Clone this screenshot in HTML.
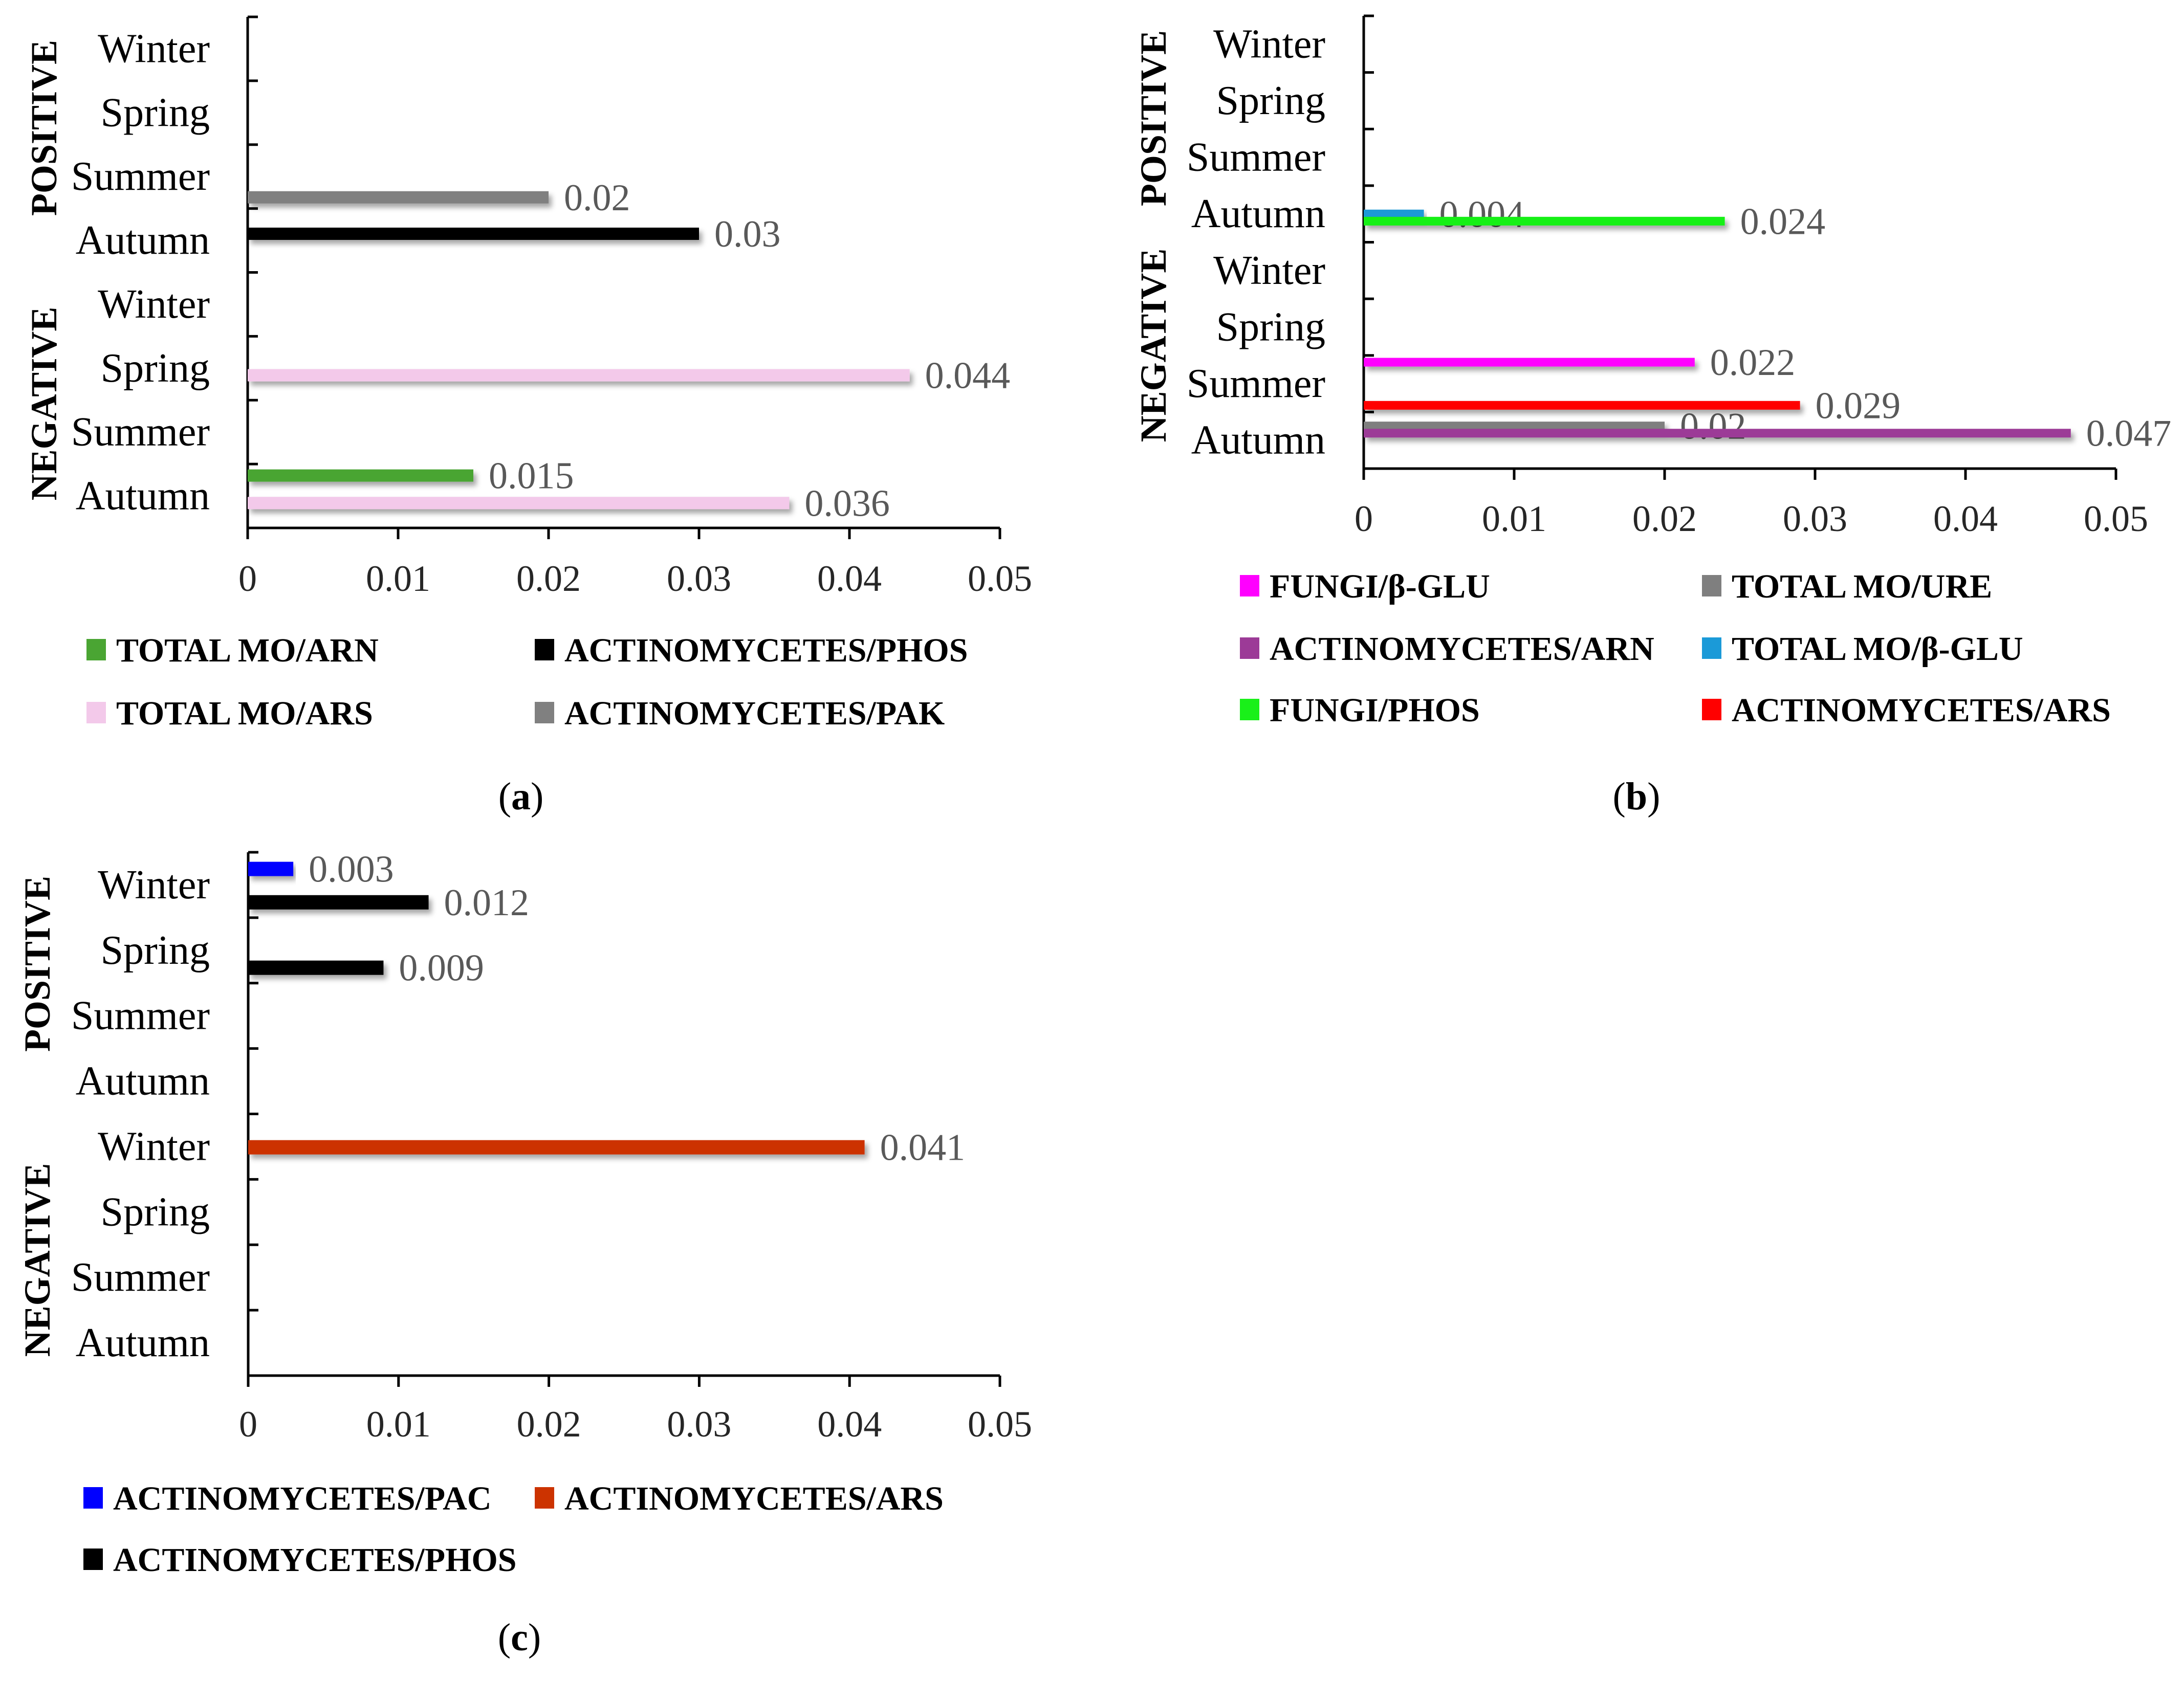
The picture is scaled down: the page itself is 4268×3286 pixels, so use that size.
<!DOCTYPE html>
<html><head><meta charset="utf-8"><style>
html,body{margin:0;padding:0;background:#fff;}
svg{display:block;}
text{font-family:"Liberation Serif",serif;}
</style></head><body>
<svg id="fig" width="4268" height="3286" viewBox="0 0 4268 3286" xmlns="http://www.w3.org/2000/svg">
<defs>
<filter id="sh" x="-5%" y="-50%" width="110%" height="300%">
<feDropShadow dx="6" dy="8" stdDeviation="5" flood-color="#000" flood-opacity="0.35"/>
</filter>
</defs>
</svg>
<script>
// shared
const seasons = ["Winter","Spring","Summer","Autumn","Winter","Spring","Summer","Autumn"];
const xTicks = [0,0.01,0.02,0.03,0.04,0.05];
const xTickLabels = ["0","0.01","0.02","0.03","0.04","0.05"];

// chart a (categories top to bottom: POS W,Sp,Su,Au, NEG W,Sp,Su,Au)
const aNames = ["TOTAL MO/ARN","ACTINOMYCETES/PHOS","TOTAL MO/ARS","ACTINOMYCETES/PAK"];
const aColors = ["#4aa533","#000000","#f3c9ea","#808080"];
const aARN  = [null,null,null,null,null,null,null,0.015];
const aPHOS = [null,null,null,0.03,null,null,null,null];
const aARS  = [null,null,null,null,null,0.044,null,0.036];
const aPAK  = [null,null,0.02,null,null,null,null,null];

// chart b
const bNames = ["FUNGI/β-GLU","TOTAL MO/URE","ACTINOMYCETES/ARN","TOTAL MO/β-GLU","FUNGI/PHOS","ACTINOMYCETES/ARS"];
const bColors = ["#ff00ff","#7f7f7f","#9c3a97","#1b9ad8","#19f019","#ff0000"];
const bFGLU = [null,null,null,null,null,null,0.022,null];
const bURE  = [null,null,null,null,null,null,null,0.02];
const bARN  = [null,null,null,null,null,null,null,0.047];
const bTGLU = [null,null,null,0.004,null,null,null,null];
const bPHOS = [null,null,null,0.024,null,null,null,null];
const bARS  = [null,null,null,null,null,null,0.029,null];

// chart c
const cNames = ["ACTINOMYCETES/PAC","ACTINOMYCETES/ARS","ACTINOMYCETES/PHOS"];
const cColors = ["#0000ff","#cc3300","#000000"];
const cPAC  = [0.003,null,null,null,null,null,null,null];
const cARS  = [null,null,null,null,0.041,null,null,null];
const cPHOS = [0.012,0.009,null,null,null,null,null,null];

const NS="http://www.w3.org/2000/svg";
const svg=document.getElementById('fig');
function mk(tag,attrs,parent,txt){const e=document.createElementNS(NS,tag);for(const k in attrs)e.setAttribute(k,attrs[k]);if(txt!==undefined)e.textContent=txt;(parent||svg).appendChild(e);return e;}

function drawChart(id,cfg,series,colors,names,slots){
  const g=mk('g',{});
  
  
  const x=v=>cfg.x0+(cfg.x1-cfg.x0)*v/0.05;
  const band=(cfg.bottom-cfg.top)/8;
  const ya=mk('line',{x1:cfg.x0,y1:cfg.top,x2:cfg.x0,y2:cfg.bottom,stroke:'#000','stroke-width':5},g);
  
  
  for(let i=0;i<=8;i++){const yy=cfg.top+band*i;mk('line',{x1:cfg.x0,y1:yy,x2:cfg.x0+20,y2:yy,stroke:'#000','stroke-width':5},g);}
  const xa=mk('line',{x1:cfg.x0,y1:cfg.bottom,x2:cfg.x1,y2:cfg.bottom,stroke:'#000','stroke-width':5},g);
  
  
  xTicks.forEach((t,i)=>{
    mk('line',{x1:x(t),y1:cfg.bottom,x2:x(t),y2:cfg.bottom+22,stroke:'#000','stroke-width':5},g);
    const tl=mk('text',{x:x(t),y:cfg.tickY,'font-size':72,'text-anchor':'middle',fill:'#262626'},g,xTickLabels[i]);
    
    
  });
  seasons.forEach((s,i)=>{
    const t=mk('text',{x:cfg.labelX,y:cfg.top+band*(i+0.5)+26,'font-size':80,'text-anchor':'end',fill:'#000'},g,s);
    
    
  });
  [['POSITIVE',cfg.posY],['NEGATIVE',cfg.negY]].forEach(([s,yy])=>{
    const t=mk('text',{x:cfg.sideX,y:yy,'font-size':72,'font-weight':'bold','text-anchor':'middle',transform:`rotate(-90 ${cfg.sideX} ${yy})`},g,s);
    
    
  });
  series.forEach((vals,si)=>{
    vals.forEach((v,ci)=>{
      if(v===null)return;
      const cy=cfg.top+band*ci+band*(slots.start+slots.step*slots.idx[si]);
      const r=mk('rect',{x:x(0),y:cy-cfg.bar/2,width:x(v)-x(0),height:cfg.bar,fill:colors[si],filter:'url(#sh)'},g);
      
      
      const t=mk('text',{x:x(v)+30,y:cy+25,'font-size':74,fill:'#595959'},g,String(v));
      
      
    });
  });
  names.forEach((n,i)=>{
    const col=i%cfg.legCols, row=Math.floor(i/cfg.legCols);
    const sx=cfg.legX[col], sy=cfg.legY[row];
    const lg=mk('g',{},g);
    
    
    mk('rect',{x:sx,y:sy-22,width:38,height:42,fill:colors[i]},lg);
    mk('text',{x:sx+58,y:sy+22,'font-size':66,'font-weight':'bold',fill:'#000'},lg,n);
  });
  const cap=mk('text',{x:cfg.capX,y:cfg.capY+25,'font-size':76,'text-anchor':'middle'},g);
  
  
  cap.innerHTML='(<tspan font-weight="bold">'+id+'</tspan>)';
}

drawChart('a',{x0:484,x1:1954,top:33,bottom:1032,tickY:1155,labelX:410,sideX:110,posY:250,negY:789,
  legCols:2,legX:[169,1045],legY:[1271,1394],capX:1018,capY:1557,bar:24},
  [aARN,aPHOS,aARS,aPAK],aColors,aNames,{start:0.18,step:0.215,idx:[0,1,2,3]});

drawChart('b',{x0:2665,x1:4135,top:31,bottom:916,tickY:1038,labelX:2590,sideX:2278,posY:231,negY:675,
  legCols:2,legX:[2423,3326],legY:[1146,1268,1388],capX:3198,capY:1557,bar:17},
  [bFGLU,bURE,bARN,bTGLU,bPHOS,bARS],bColors,bNames,{start:0.12,step:0.127,idx:[0,1,2,3,4,6]});

drawChart('c',{x0:485,x1:1954,top:1666,bottom:2689,tickY:2808,labelX:410,sideX:97,posY:1884,negY:2463,
  legCols:2,legX:[163,1045],legY:[2929,3049],capX:1015,capY:3201,bar:28},
  [cPAC,cARS,cPHOS],cColors,cNames,{start:0.255,step:0.255,idx:[0,1,2]});
</script>
</body></html>
